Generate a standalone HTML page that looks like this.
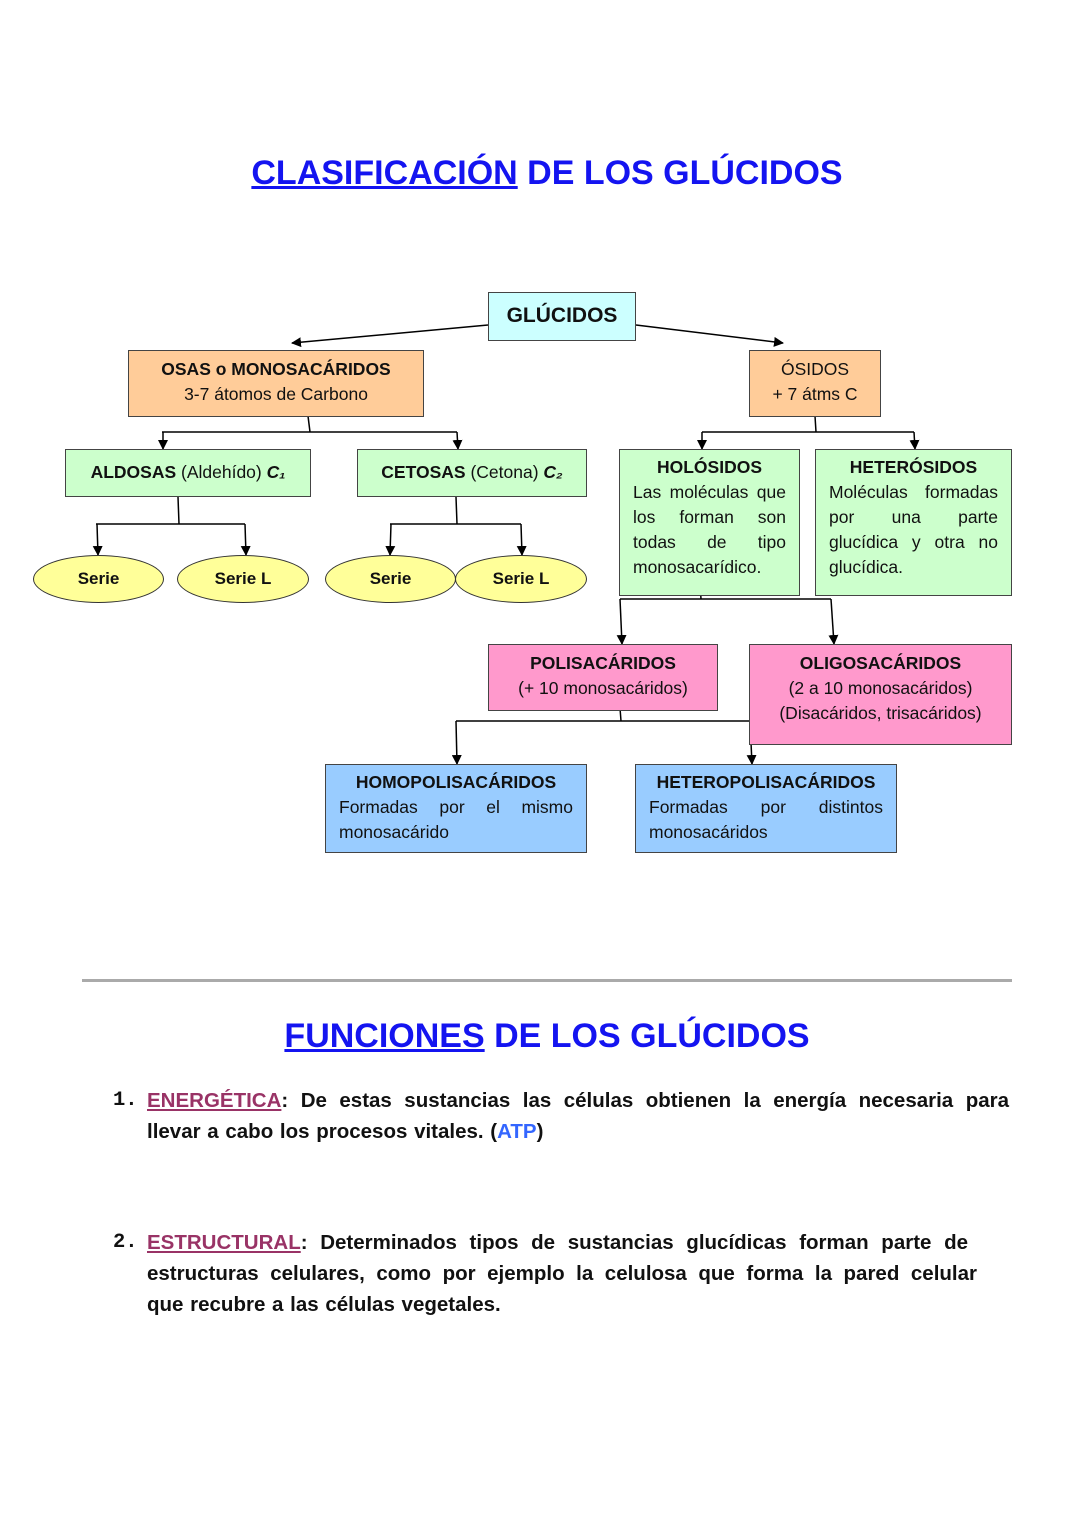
<!DOCTYPE html>
<html><head><meta charset="utf-8"><style>
body{margin:0;width:1080px;height:1527px;background:#fff;position:relative;font-family:"Liberation Sans",sans-serif;color:#111;overflow:hidden}
.t{position:absolute;left:0;width:1094px;text-align:center;font-weight:bold;font-size:34px;color:#1414f0}
.t u{text-decoration-thickness:3px}
.b{position:absolute;box-sizing:border-box;border:1.5px solid #444;font-size:17.5px;line-height:25px;text-align:center;padding-top:6px}
.j{text-align:justify;text-align-last:left;padding:5px 13px 0 13px}
.j b{display:block;text-align:center;text-align-last:center}
.e{position:absolute;box-sizing:border-box;border:1.5px solid #333;border-radius:50%;background:#ffff99;font-weight:bold;font-size:17px;display:flex;align-items:center;justify-content:center}
.p{position:absolute;left:147px;width:862px;font-weight:bold;font-size:20.5px;line-height:31px;word-spacing:1px}
.n{position:absolute;left:113px;font-weight:bold;font-size:20.5px;font-family:"Liberation Mono",monospace}
.r{color:#993366;text-decoration:underline}
.jl{display:block;text-align:justify;text-align-last:justify}
</style></head><body>
<div class="t" style="top:154px"><u>CLASIFICACIÓN</u> DE LOS GLÚCIDOS</div>
<svg style="position:absolute;left:0;top:0" width="1080" height="900">
<defs><marker id="a" markerWidth="10" markerHeight="10" refX="9" refY="5" orient="auto" markerUnits="userSpaceOnUse"><path d="M0,0L10,5L0,10z" fill="#000"/></marker></defs>
<g stroke="#000" stroke-width="1.5" fill="none">
<line x1="488" y1="325" x2="292" y2="343" marker-end="url(#a)"/>
<line x1="636" y1="325" x2="783" y2="343" marker-end="url(#a)"/>
<path d="M308 416L310 432M162 432H457"/><line x1="163" y1="432" x2="163" y2="449" marker-end="url(#a)"/><line x1="457" y1="432" x2="458" y2="449" marker-end="url(#a)"/>
<path d="M815 416L816 432M702 432H914"/><line x1="702" y1="432" x2="702" y2="449" marker-end="url(#a)"/><line x1="914" y1="432" x2="915" y2="449" marker-end="url(#a)"/>
<path d="M178 497L179 524M96 524H245"/><line x1="97" y1="524" x2="98" y2="555" marker-end="url(#a)"/><line x1="245" y1="524" x2="246" y2="555" marker-end="url(#a)"/>
<path d="M456 497L457 524M390 524H521"/><line x1="391" y1="524" x2="390" y2="555" marker-end="url(#a)"/><line x1="521" y1="524" x2="522" y2="555" marker-end="url(#a)"/>
<path d="M700 583L701 599M620 599H831"/><line x1="620" y1="599" x2="622" y2="644" marker-end="url(#a)"/><line x1="831" y1="599" x2="834" y2="644" marker-end="url(#a)"/>
<path d="M620 708L621 721M456 721H750"/><line x1="456" y1="721" x2="457" y2="764" marker-end="url(#a)"/><line x1="750" y1="721" x2="752" y2="764" marker-end="url(#a)"/>
</g></svg>
<div class="b" style="left:488px;top:292px;width:148px;height:49px;background:#ccffff;font-weight:bold;font-size:21px;padding-top:10px">GLÚCIDOS</div>
<div class="b" style="left:128px;top:350px;width:296px;height:67px;background:#ffcc99"><b>OSAS o MONOSACÁRIDOS</b><br>3-7 átomos de Carbono</div>
<div class="b" style="left:749px;top:350px;width:132px;height:67px;background:#ffcc99">ÓSIDOS<br>+ 7 átms C</div>
<div class="b" style="left:65px;top:449px;width:246px;height:48px;background:#ccffcc;padding-top:10px"><b>ALDOSAS</b> (Aldehído) <b><i>C₁</i></b></div>
<div class="b" style="left:357px;top:449px;width:230px;height:48px;background:#ccffcc;padding-top:10px"><b>CETOSAS</b> (Cetona) <b><i>C₂</i></b></div>
<div class="b j" style="left:619px;top:449px;width:181px;height:147px;background:#ccffcc"><b>HOLÓSIDOS</b>Las moléculas que los forman son todas de tipo monosacarídico.</div>
<div class="b j" style="left:815px;top:449px;width:197px;height:147px;background:#ccffcc"><b>HETERÓSIDOS</b>Moléculas formadas por una parte glucídica y otra no glucídica.</div>
<div class="e" style="left:33px;top:555px;width:131px;height:48px">Serie</div>
<div class="e" style="left:177px;top:555px;width:132px;height:48px">Serie L</div>
<div class="e" style="left:325px;top:555px;width:131px;height:48px">Serie</div>
<div class="e" style="left:455px;top:555px;width:132px;height:48px">Serie L</div>
<div class="b" style="left:488px;top:644px;width:230px;height:67px;background:#ff99cc"><b>POLISACÁRIDOS</b><br>(+ 10 monosacáridos)</div>
<div class="b" style="left:749px;top:644px;width:263px;height:101px;background:#ff99cc"><b>OLIGOSACÁRIDOS</b><br>(2 a 10 monosacáridos)<br>(Disacáridos, trisacáridos)</div>
<div class="b j" style="left:325px;top:764px;width:262px;height:89px;background:#99ccff"><b>HOMOPOLISACÁRIDOS</b>Formadas por el mismo monosacárido</div>
<div class="b j" style="left:635px;top:764px;width:262px;height:89px;background:#99ccff"><b>HETEROPOLISACÁRIDOS</b>Formadas por distintos monosacáridos</div>
<div style="position:absolute;left:82px;top:979px;width:930px;height:3px;background:#aaa"></div>
<div class="t" style="top:1017px"><u>FUNCIONES</u> DE LOS GLÚCIDOS</div>
<div class="n" style="top:1089px">1.</div>
<div class="p" style="top:1085px"><span class="jl"><span class="r">ENERGÉTICA</span>: De estas sustancias las células obtienen la energía necesaria para</span>llevar a cabo los procesos vitales. (<span style="color:#3366ff">ATP</span>)</div>
<div class="n" style="top:1231px">2.</div>
<div class="p" style="top:1227px;width:840px"><span class="jl" style="width:821px"><span class="r">ESTRUCTURAL</span>: Determinados tipos de sustancias glucídicas forman parte de</span><span class="jl" style="width:830px">estructuras celulares, como por ejemplo la celulosa que forma la pared celular</span>que recubre a las células vegetales.</div>
</body></html>
